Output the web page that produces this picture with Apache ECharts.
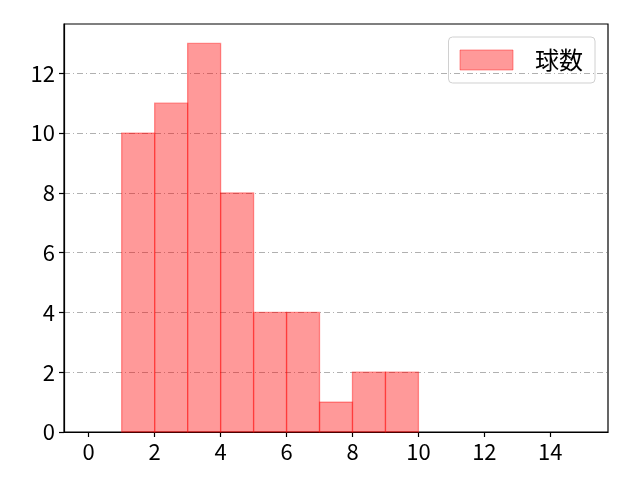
<!DOCTYPE html>
<html>
<head>
<meta charset="utf-8">
<script src="https://cdn.jsdelivr.net/npm/echarts@6/dist/echarts.min.js"></script>
<style>
    html, body { margin: 0; padding: 0; background: #fff; }
    #main { width: 640px; height: 480px; }
</style>
</head>
<body>
<div id="main"></div>
<script>
// ヒストグラムのデータ
var binStarts = [1, 2, 3, 4, 5, 6, 7, 8, 9]
var binEnds = [2, 3, 4, 5, 6, 7, 8, 9, 10]
var counts = [10, 11, 13, 8, 4, 4, 1, 2, 2]
var xTicks = [0, 2, 4, 6, 8, 10, 12, 14]
var yTicks = [0, 2, 4, 6, 8, 10, 12]
var seriesName = '球数'

var font = '"Noto Sans CJK JP", "Noto Sans", sans-serif'

var chartDom = document.getElementById('main')
var myChart = echarts.init(chartDom, null, { renderer: 'canvas' })

var data = []
counts.forEach(function (c, i) {
    data.push([binStarts[i], binEnds[i], c])
})

var axisLine = { show: true, onZero: false, lineStyle: { color: '#000', width: 1.2 } }

var option = {
    animation: false,
    grid: {
        left: 64,
        right: 32,
        top: 24,
        bottom: 48,
        show: true,
        borderColor: '#000',
        borderWidth: 1.2
    },
    legend: {
        right: 45,
        top: 37,
        orient: 'vertical',
        itemWidth: 53,
        itemHeight: 20,
        padding: [11, 12, 11, 11],
        borderColor: '#d0d0d0',
        borderWidth: 1,
        borderRadius: 4,
        textStyle: {
            fontFamily: font,
            fontSize: 24,
            color: '#000',
            padding: [0, 0, 0, 17]
        },
        data: [{
            name: seriesName,
            icon: 'rect',
            itemStyle: { color: 'rgba(255,0,0,0.4)', borderColor: 'rgba(255,0,0,0.4)', borderWidth: 1 }
        }]
    },
    xAxis: {
        type: 'value',
        min: -0.75,
        max: 15.75,
        splitLine: { show: false },
        axisLine: axisLine,
        axisTick: {
            show: true,
            length: 5,
            customValues: xTicks,
            lineStyle: { color: '#000', width: 1.2 }
        },
        axisLabel: {
            customValues: xTicks,
            fontFamily: font,
            fontSize: 22,
            color: '#000',
            margin: 9
        }
    },
    yAxis: {
        type: 'value',
        min: 0,
        max: 13.65,
        interval: 2,
        axisLine: axisLine,
        axisTick: {
            show: true,
            length: 5,
            customValues: yTicks,
            lineStyle: { color: '#000', width: 1.2 }
        },
        axisLabel: {
            customValues: yTicks,
            fontFamily: font,
            fontSize: 22,
            color: '#000',
            margin: 9
        },
        splitLine: {
            show: true,
            lineStyle: { color: '#b0b0b0', width: 1, type: [6, 3, 1, 3] }
        }
    },
    series: [{
        name: seriesName,
        type: 'custom',
        itemStyle: { color: 'rgba(255,0,0,0.4)' },
        renderItem: function (params, api) {
            var p0 = api.coord([api.value(0), api.value(2)])
            var p1 = api.coord([api.value(1), 0])
            return {
                type: 'rect',
                shape: { x: p0[0], y: p0[1], width: p1[0] - p0[0], height: p1[1] - p0[1] },
                style: {
                    fill: 'rgba(255,0,0,0.4)',
                    stroke: 'rgba(255,0,0,0.4)',
                    lineWidth: 1.3
                }
            }
        },
        encode: { x: [0, 1], y: 2 },
        data: data
    }]
}

myChart.setOption(option)
</script>
</body>
</html>
